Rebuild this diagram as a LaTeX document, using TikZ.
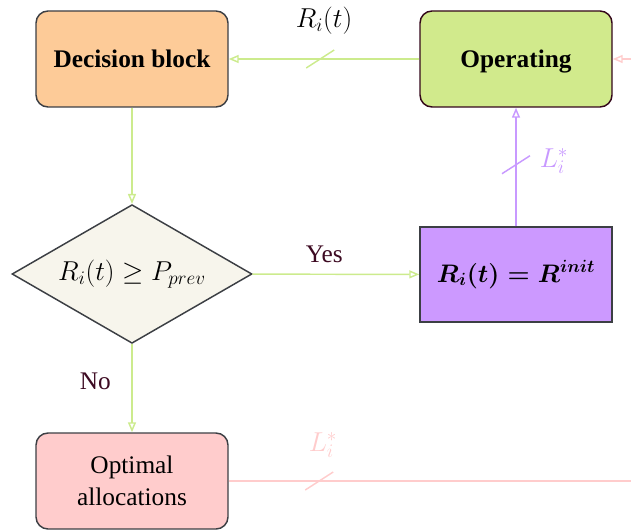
\RequirePackage{fix-cm}
\documentclass[tikz,border=0pt]{standalone}
\usepackage{fontspec}
\setmainfont{Liberation Serif}
\usetikzlibrary{shapes.geometric,arrows.meta}
\definecolor{orangefill}{HTML}{FDCB98}
\definecolor{limefill}{HTML}{D1EA8C}
\definecolor{beigefill}{HTML}{F7F5EC}
\definecolor{purplefill}{HTML}{CC99FF}
\definecolor{pinkfill}{HTML}{FFCCCC}
\definecolor{greenline}{HTML}{CCEB8D}
\definecolor{purpleline}{HTML}{C899FF}
\definecolor{pinkline}{HTML}{FFCCCC}
\definecolor{labelmaroon}{HTML}{3D0A22}
\definecolor{bordergray}{HTML}{3C3F44}
\definecolor{bordermaroon}{HTML}{33061A}
\begin{document}
\begin{tikzpicture}[x=0.75pt,y=-0.75pt,
  bigfont/.style={font=\fontsize{19}{24}\selectfont},
  mathfont/.style={font=\fontsize{20.5}{24}\selectfont},
  boldfont/.style={font=\fontsize{19}{24}\selectfont\bfseries, text height=14pt, text depth=1.2pt},
  boldmathfont/.style={font=\fontsize{19}{24}\selectfont\boldmath},
  box/.style={draw=bordergray, line width=1.1pt, rounded corners=9pt,
    minimum width=144pt, minimum height=72pt, align=center, inner sep=0pt},
  sqbox/.style={draw=bordergray, line width=1.1pt, sharp corners,
    minimum width=144pt, minimum height=71pt, align=center, inner sep=0pt},
  conn/.style={line width=1.1pt, -{Triangle[open,length=7.5pt,width=6pt]}},
  plainline/.style={line width=1.1pt},
  slash/.style={line width=1.1pt},
  yesno/.style={text=labelmaroon, font=\fontsize{19}{22}\selectfont}
]
\useasboundingbox (0,0) rectangle (631,531);
\clip (0,0) rectangle (631,531);

% nodes
\node[box, fill=orangefill, boldfont] (dec) at (132,59) {Decision block};
\node[box, fill=limefill, draw=bordermaroon, boldfont] (op) at (516,59) {Operating};
\node[diamond, draw=bordergray, fill=beigefill, line width=1.1pt, aspect=1.73,
  minimum width=180pt, minimum height=104pt, inner sep=0pt, mathfont] (dia) at (132,274) {$R_i(t) \geq P_{prev}$};
\node[sqbox, fill=purplefill, boldmathfont] (rinit) at (516,274.5) {$R_i(t) = R^{init}$};
\node[box, fill=pinkfill, bigfont] (opt) at (132,481) {Optimal\\allocations};

\coordinate (pinkend) at (640,481);
\coordinate (pinkstart) at (640,59);

% connectors
\draw[conn, draw=greenline] (op) -- coordinate[pos=0.52] (s1) (dec);
\draw[slash, draw=greenline] ([shift={(-14,9)}]s1) -- ([shift={(14,-9)}]s1);
\node[mathfont] (lr) at (324,21) {$R_i(t)$};

\draw[conn, draw=greenline] (dec) -- (dia);
\draw[conn, draw=greenline] (dia) -- node[yesno, above=5pt, pos=0.43] (yes) {Yes} (rinit);
\draw[conn, draw=greenline] (dia) -- node[yesno, left=12pt, pos=0.42] (no) {No} (opt);

\draw[conn, draw=purpleline] (rinit) -- coordinate[pos=0.52] (s2) (op);
\draw[slash, draw=purpleline] ([shift={(-14,9)}]s2) -- ([shift={(14,-9)}]s2);
\node[mathfont, text=purpleline] (ll1) at (554,161) {$L_i^*$};

\draw[plainline, draw=pinkline] (opt.east |- pinkend) -- coordinate[pos=0.22] (s3) (pinkend);
\draw[slash, draw=pinkline] ([shift={(-14,9)}]s3) -- ([shift={(14,-9)}]s3);
\node[mathfont, text=pinkline] (ll2) at (323,445) {$L_i^*$};

\draw[conn, draw=pinkline] (pinkstart) -- (op);
\end{tikzpicture}
\end{document}
